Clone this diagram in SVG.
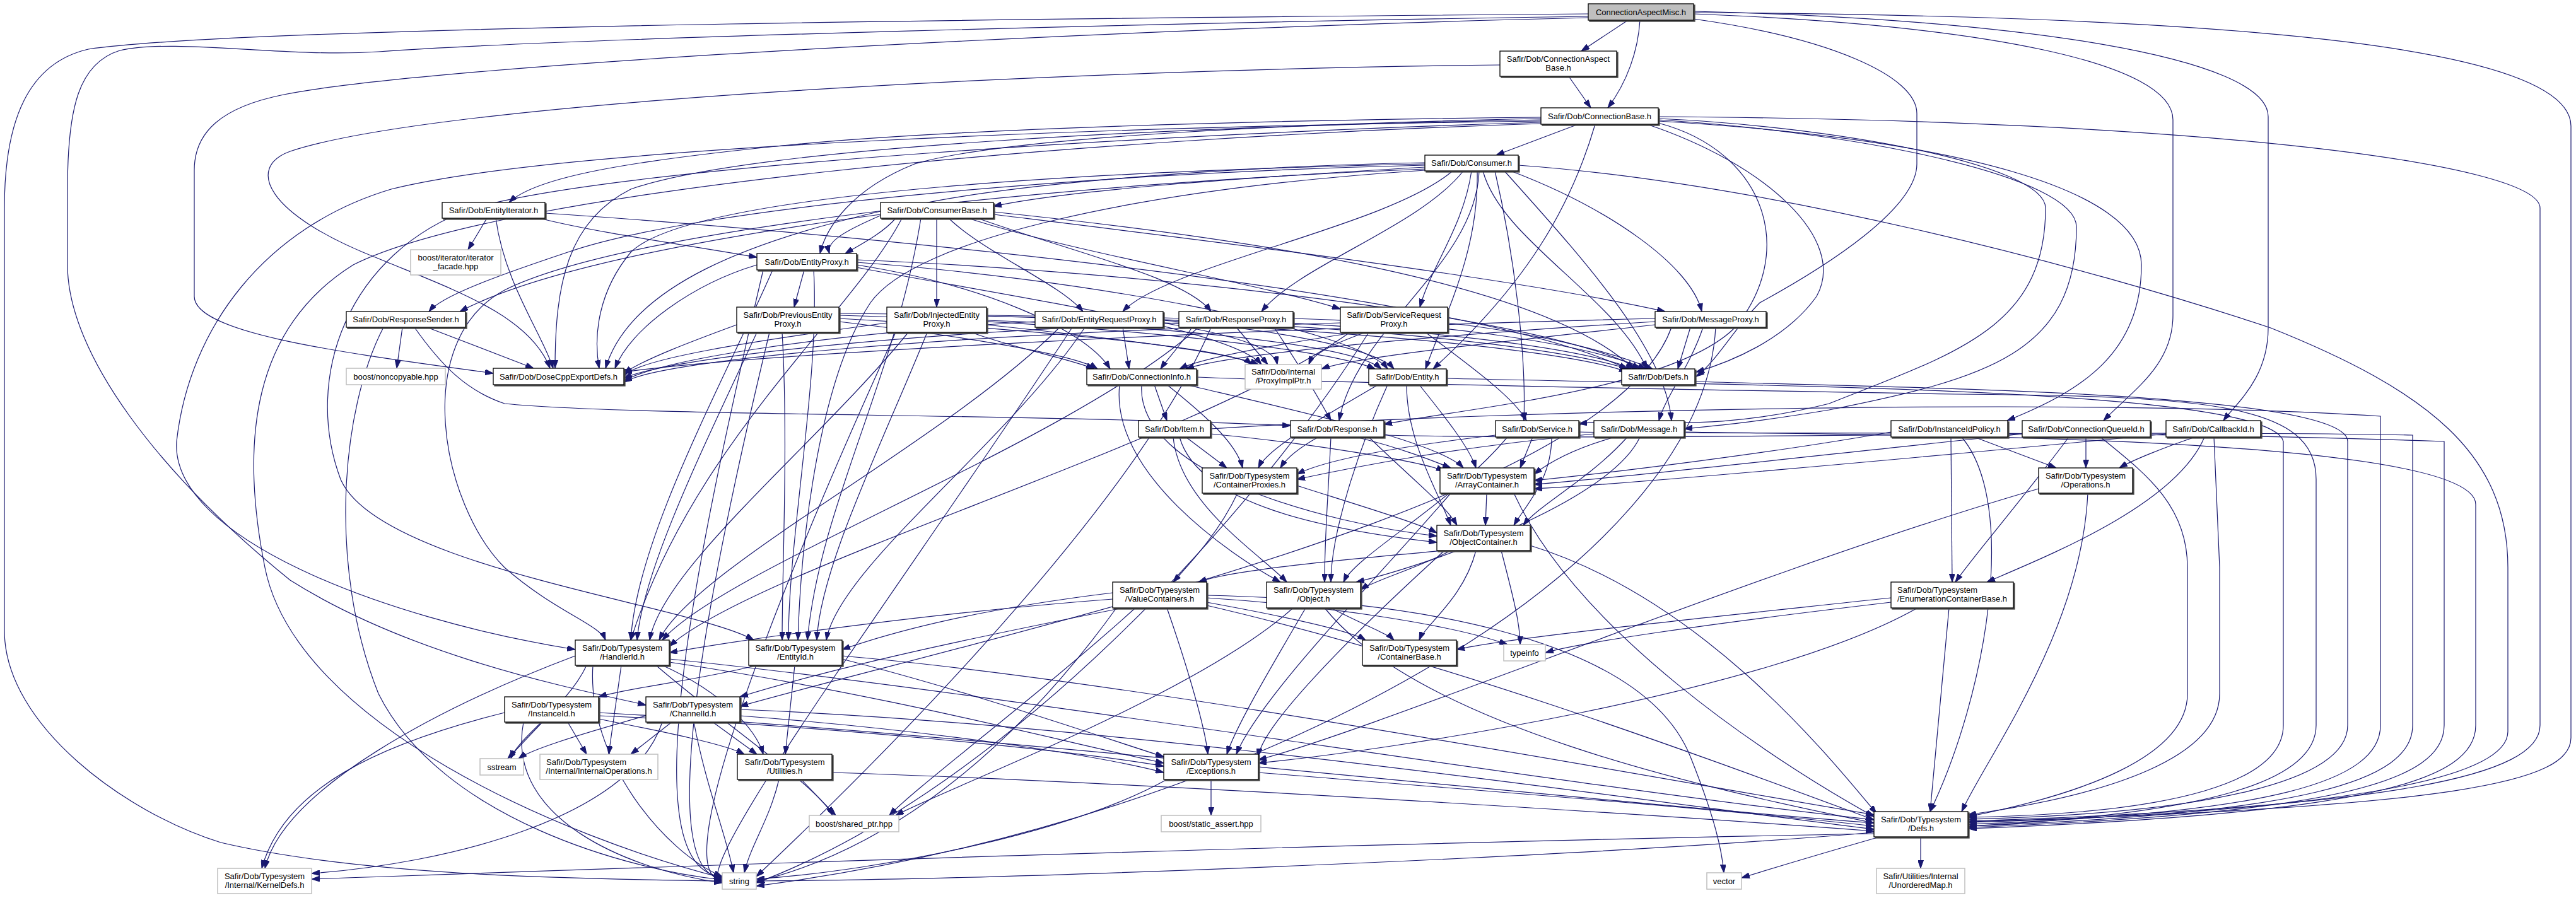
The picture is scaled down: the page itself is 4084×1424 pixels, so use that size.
<svg xmlns="http://www.w3.org/2000/svg" width="4084" height="1424" viewBox="0 0 4084 1424">
<defs>
<marker id="a" markerWidth="13" markerHeight="9" refX="13" refY="4.5" orient="auto" markerUnits="userSpaceOnUse"><path d="M0,0 L13,4.5 L0,9 z" fill="#191970" stroke="#191970" stroke-width="1"/></marker>
<filter id="s" x="-5%" y="-20%" width="112%" height="150%"><feOffset in="SourceAlpha" dx="1.5" dy="1.5" result="o"/><feFlood flood-color="#444"/><feComposite in2="o" operator="in"/><feMerge><feMergeNode/><feMergeNode in="SourceGraphic"/></feMerge></filter>
<style>
#edges path{fill:none;stroke:#191970;stroke-width:1.2;marker-end:url(#a)}
.n rect{fill:#fff;stroke:#000;stroke-width:1.3;filter:url(#s)}
.x rect{fill:#fff;stroke:#bfbfbf;stroke-width:1.5}
.r rect{fill:#bfbfbf;stroke:#000;stroke-width:1.3;filter:url(#s)}
text{font-family:"Liberation Sans",Arial,Helvetica,sans-serif;font-size:13px;text-anchor:middle;fill:#000}
text.l{text-anchor:start}
</style>
</defs>
<rect width="4084" height="1424" fill="#fff"/>
<g id="edges">
<path d="M2581,32 L2507,81"/>
<path d="M2600,32 C2597,80 2580,130 2549,171"/>
<path d="M2518,28 C1800,45 700,100 450,150 C350,170 308,210 308,270 L308,470 C308,530 550,560 782,592"/>
<path d="M2518,22 C1800,28 400,40 140,78 C45,100 7,190 7,330 L7,1000 C7,1150 200,1290 350,1336 C600,1395 1000,1394 1145,1397"/>
<path d="M2518,26 C1900,35 900,60 600,82 C450,92 280,60 190,80 C125,100 107,170 107,300 L107,420 C107,560 250,750 460,920 C650,1040 900,1090 1024,1118"/>
<path d="M2685,30 C2900,60 3039,120 3039,180 L3039,260 C3039,330 2900,420 2790,480 C2750,520 2720,575 2689,597"/>
<path d="M2685,22 C3150,40 3445,100 3445,190 L3445,500 C3445,580 3380,620 3335,667"/>
<path d="M2685,18 C3200,30 3596,90 3596,185 L3596,520 C3596,600 3545,640 3525,667"/>
<path d="M2685,20 C3600,25 4076,80 4076,200 L4076,1170 C4076,1240 3900,1280 3121,1303"/>
<path d="M2487,121 L2522,171"/>
<path d="M2378,103 C1700,110 700,160 460,240 C390,265 420,340 600,410 C720,460 840,500 872,584"/>
<path d="M2502,197 L2372,246"/>
<path d="M2443,186 C2000,190 1500,205 1250,230 C1000,255 850,280 807,321"/>
<path d="M2443,188 C2100,195 1600,215 1450,260 C1350,300 1310,360 1300,402"/>
<path d="M2443,190 C1900,200 1200,230 1000,300 C900,350 880,450 880,584"/>
<path d="M2529,197 C2490,330 2420,450 2272,585"/>
<path d="M2611,197 C2800,260 2930,380 2880,470 C2830,540 2740,575 2689,590"/>
<path d="M2629,195 C2800,240 2850,400 2750,520 C2650,620 2300,650 2194,673"/>
<path d="M2629,188 C2900,200 3243,260 3243,330 C3243,520 3100,560 2900,640 C2700,690 2600,660 2503,672"/>
<path d="M2629,190 C2950,210 3292,280 3292,360 C3292,560 3150,600 2900,650 C2780,670 2720,675 2670,680"/>
<path d="M2629,192 C3100,220 3395,300 3395,420 C3395,560 3300,620 3182,667"/>
<path d="M2629,185 C3500,190 4027,260 4027,330 L4027,1150 C4027,1230 3800,1280 3121,1302"/>
<path d="M2443,192 C1800,200 900,230 620,300 C420,360 300,520 280,700 C270,850 600,980 912,1030"/>
<path d="M2443,194 C1900,210 1000,260 750,330 C550,400 480,600 540,760 C600,900 1100,960 1195,1015"/>
<path d="M2443,196 C1700,220 800,300 560,420 C400,520 380,700 420,900 C470,1150 900,1330 1145,1392"/>
<path d="M2259,265 C2000,280 1700,300 1575,327"/>
<path d="M2259,258 C1900,265 1500,300 1400,340 C1330,370 1310,385 1315,402"/>
<path d="M2259,262 C1700,275 1100,330 900,400 C780,440 700,470 680,494"/>
<path d="M2259,260 C1800,270 1100,300 1000,400 C950,460 940,530 950,584"/>
<path d="M2303,271 C2200,360 1850,420 1780,494"/>
<path d="M2320,271 C2250,360 2060,420 2000,494"/>
<path d="M2333,271 C2320,360 2270,420 2251,487"/>
<path d="M2342,271 C2345,400 2290,500 2260,585"/>
<path d="M2351,271 C2380,380 2560,470 2611,585"/>
<path d="M2345,271 C2340,420 2150,520 2123,667"/>
<path d="M2370,271 C2400,400 2420,560 2416,667"/>
<path d="M2385,271 C2500,400 2640,550 2650,667"/>
<path d="M2395,271 C2550,330 2680,420 2698,494"/>
<path d="M2407,262 C2800,290 3300,420 3600,520 C3850,620 3976,720 3976,900 L3976,1160 C3976,1250 3600,1290 3121,1304"/>
<path d="M2259,268 C1700,290 1000,360 800,460 C650,540 700,800 800,900 C880,970 950,990 960,1015"/>
<path d="M2259,270 C1800,300 1450,380 1380,480 C1300,600 1270,850 1265,1015"/>
<path d="M1485,346 L1485,487"/>
<path d="M1504,346 C1560,400 1680,450 1717,494"/>
<path d="M1535,346 C1700,400 2000,450 2125,490"/>
<path d="M1550,346 C1700,400 1880,440 1920,494"/>
<path d="M1575,340 C1900,380 2400,440 2640,494"/>
<path d="M1396,340 C1100,380 850,430 729,494"/>
<path d="M1420,346 C1400,370 1360,390 1340,402"/>
<path d="M1396,335 C1200,380 1000,450 960,584"/>
<path d="M1575,336 C2000,380 2450,450 2590,585"/>
<path d="M1430,346 C1350,500 1100,700 1000,1015"/>
<path d="M1460,346 C1420,600 1300,800 1280,1015"/>
<path d="M772,346 L742,396"/>
<path d="M855,346 C950,370 1100,390 1200,408"/>
<path d="M786,346 C800,450 860,530 877,584"/>
<path d="M864,338 C1200,360 2300,450 2580,585"/>
<path d="M1275,428 L1259,487"/>
<path d="M1200,420 C1100,450 1000,520 975,584"/>
<path d="M1358,420 C1550,450 1720,520 1760,585"/>
<path d="M1358,424 C1600,470 1950,520 2000,578"/>
<path d="M1358,416 C1700,440 2150,520 2200,585"/>
<path d="M1358,412 C1800,430 2450,500 2600,585"/>
<path d="M1225,428 C1150,600 1010,850 1000,1015"/>
<path d="M1290,428 C1300,600 1250,850 1250,1015"/>
<path d="M1210,428 C1100,900 1000,1380 1145,1390"/>
<path d="M638,519 L629,584"/>
<path d="M677,519 L846,584"/>
<path d="M657,519 C700,580 740,620 800,640 C1000,660 1600,655 2046,675"/>
<path d="M608,519 C540,650 520,900 600,1100 C700,1300 1000,1380 1145,1395"/>
<path d="M1168,515 C1100,540 1020,570 989,592"/>
<path d="M1330,510 C1500,530 1700,560 1740,585"/>
<path d="M1330,505 C1600,520 1950,550 1985,578"/>
<path d="M1330,500 C1700,510 2100,550 2180,585"/>
<path d="M1330,497 C1800,500 2450,540 2580,590"/>
<path d="M1200,527 C1120,700 1020,900 1010,1015"/>
<path d="M1240,527 C1250,700 1240,900 1240,1015"/>
<path d="M1220,527 C1130,900 1030,1385 1145,1393"/>
<path d="M1406,512 C1200,540 1000,570 989,598"/>
<path d="M1540,527 C1600,550 1700,570 1735,585"/>
<path d="M1564,515 C1800,540 1950,560 1995,578"/>
<path d="M1564,508 C1900,520 2150,550 2190,585"/>
<path d="M1564,500 C2000,505 2450,540 2590,588"/>
<path d="M1440,527 C1300,700 1050,900 1030,1015"/>
<path d="M1470,527 C1400,700 1300,900 1295,1015"/>
<path d="M1420,527 C1250,900 1050,1390 1145,1396"/>
<path d="M1641,510 C1300,530 1050,570 989,604"/>
<path d="M1780,519 L1790,585"/>
<path d="M1844,512 C1950,530 2020,550 2025,578"/>
<path d="M1844,508 C2000,520 2180,550 2210,585"/>
<path d="M1844,504 C2100,510 2500,540 2600,590"/>
<path d="M1680,519 C1500,700 1100,900 1045,1015"/>
<path d="M1720,519 C1600,700 1330,900 1310,1015"/>
<path d="M1700,519 C1450,900 1080,1395 1145,1399"/>
<path d="M1869,512 C1400,530 1050,570 989,600"/>
<path d="M1890,519 C1870,550 1850,570 1840,585"/>
<path d="M1960,519 L2010,578"/>
<path d="M2020,519 C2060,580 2090,630 2110,667"/>
<path d="M2050,505 C2250,510 2500,540 2610,585"/>
<path d="M1900,519 C1700,700 1150,900 1050,1015"/>
<path d="M1920,519 C1800,800 1400,1200 1199,1390"/>
<path d="M2125,512 C1500,530 1050,570 989,606"/>
<path d="M2150,527 C2000,550 1900,570 1870,585"/>
<path d="M2165,527 C2100,550 2080,565 2075,578"/>
<path d="M2260,527 C2330,580 2400,630 2420,667"/>
<path d="M2295,512 C2450,530 2560,560 2620,585"/>
<path d="M2140,527 C1900,700 1200,900 1061,1025"/>
<path d="M2170,527 C2000,800 1600,1250 1199,1400"/>
<path d="M2624,505 C2000,520 1200,560 989,590"/>
<path d="M2624,510 C2300,530 1950,560 1880,585"/>
<path d="M2624,515 C2400,540 2150,565 2095,585"/>
<path d="M2700,519 C2680,580 2640,630 2630,667"/>
<path d="M2680,519 L2660,585"/>
<path d="M2650,519 C2550,800 1600,1000 1173,1120"/>
<path d="M2720,519 C2700,900 2000,1300 1199,1405"/>
<path d="M1830,610 L1850,667"/>
<path d="M1850,610 C1900,650 1960,700 1970,742"/>
<path d="M1880,610 C2050,650 2280,700 2320,742"/>
<path d="M1810,610 C1800,750 2100,830 2278,850"/>
<path d="M1775,610 C1760,750 1950,880 2030,923"/>
<path d="M1897,598 C2200,610 2800,620 3100,625 C3500,628 3672,640 3672,760 L3672,1150 C3672,1240 3500,1290 3121,1310"/>
<path d="M2185,610 C2100,660 2010,710 1995,742"/>
<path d="M2250,610 C2290,660 2330,710 2340,742"/>
<path d="M2230,610 C2230,700 2280,780 2300,833"/>
<path d="M2200,610 C2150,720 2110,850 2110,923"/>
<path d="M2293,600 C2800,612 3600,615 3620,700 L3620,1150 C3620,1240 3450,1290 3121,1296"/>
<path d="M2687,605 C3000,615 3722,620 3722,700 L3722,1150 C3722,1240 3500,1290 3121,1299"/>
<path d="M1880,693 L1945,742"/>
<path d="M1919,688 C2050,700 2250,730 2290,747"/>
<path d="M1870,693 C1900,800 2100,840 2278,860"/>
<path d="M1860,693 C1870,800 2000,880 2040,923"/>
<path d="M1919,680 C2400,650 3300,630 3774,660 L3774,1150 C3774,1240 3600,1290 3121,1307"/>
<path d="M2090,693 C2060,710 2040,725 2030,742"/>
<path d="M2150,693 C2220,710 2270,730 2300,742"/>
<path d="M2170,693 C2250,770 2290,800 2310,833"/>
<path d="M2110,693 C2105,800 2100,850 2100,923"/>
<path d="M2194,690 C2600,700 3300,680 3825,690 L3825,1150 C3825,1240 3650,1290 3121,1310"/>
<path d="M2371,690 C2200,710 2100,730 2056,752"/>
<path d="M2430,693 L2410,742"/>
<path d="M2460,693 C2460,760 2420,800 2400,833"/>
<path d="M2390,693 C2300,800 2150,880 2130,923"/>
<path d="M2503,685 C2800,690 3300,680 3875,700 L3875,1150 C3875,1240 3700,1290 3121,1312"/>
<path d="M2527,688 C2300,710 2150,740 2056,760"/>
<path d="M2560,693 C2500,710 2460,730 2432,752"/>
<path d="M2580,693 C2520,760 2440,800 2415,833"/>
<path d="M2600,693 C2550,800 2250,900 2150,923"/>
<path d="M2670,685 C3000,690 3925,690 3925,800 L3925,1150 C3925,1240 3750,1290 3121,1314"/>
<path d="M2998,685 C2800,720 2550,750 2432,762"/>
<path d="M3130,693 L3260,742"/>
<path d="M3093,693 L3095,923"/>
<path d="M3110,693 C3200,800 3150,1100 3060,1287"/>
<path d="M3206,688 C2900,720 2550,760 2432,768"/>
<path d="M3307,693 L3307,742"/>
<path d="M3280,693 C3200,800 3130,880 3100,923"/>
<path d="M3330,693 C3400,750 3468,800 3468,900 L3468,1100 C3468,1200 3300,1260 3120,1295"/>
<path d="M3434,688 C3000,730 2550,770 2432,775"/>
<path d="M3480,693 C3430,710 3380,730 3360,742"/>
<path d="M3495,693 C3450,800 3250,880 3150,923"/>
<path d="M3510,693 L3519,900 L3519,1100 C3519,1200 3350,1260 3120,1292"/>
<path d="M2056,770 C2150,800 2250,830 2278,845"/>
<path d="M1962,782 C1930,850 1880,900 1860,923"/>
<path d="M2357,782 L2355,833"/>
<path d="M2300,782 C2200,900 2000,1100 1960,1196"/>
<path d="M2400,782 C2500,1000 2800,1200 2971,1295"/>
<path d="M3232,775 C2800,900 2200,1150 1995,1205"/>
<path d="M3310,782 C3300,1000 3150,1200 3110,1287"/>
<path d="M2290,873 C2100,890 1950,905 1900,923"/>
<path d="M2300,873 C2250,900 2180,920 2157,935"/>
<path d="M2340,873 C2320,950 2260,990 2250,1015"/>
<path d="M2380,873 C2400,950 2410,990 2410,1022"/>
<path d="M2290,873 C2150,1000 2000,1150 1995,1200"/>
<path d="M2426,865 C2700,950 2900,1200 2975,1290"/>
<path d="M1764,950 C1500,970 1200,1010 1061,1035"/>
<path d="M1764,940 C1600,960 1450,990 1335,1030"/>
<path d="M1780,964 C1600,1000 1350,1050 1173,1105"/>
<path d="M1913,955 C2050,980 2140,1000 2165,1015"/>
<path d="M1913,948 C2100,960 2300,990 2390,1022"/>
<path d="M1850,964 C1880,1050 1910,1150 1915,1196"/>
<path d="M1800,964 C1650,1100 1450,1250 1410,1293"/>
<path d="M1913,960 C2300,1050 2700,1200 2971,1300"/>
<path d="M1770,964 C1600,1200 1400,1350 1199,1398"/>
<path d="M1913,944 C2200,950 2600,1000 2680,1200 C2720,1300 2730,1350 2733,1384"/>
<path d="M2110,964 C2160,990 2200,1005 2210,1015"/>
<path d="M2070,964 C2020,1050 1960,1150 1945,1196"/>
<path d="M2050,964 C1900,1100 1500,1250 1420,1293"/>
<path d="M2100,964 C2250,1150 2700,1250 2971,1305"/>
<path d="M2998,948 C2700,980 2400,1010 2309,1030"/>
<path d="M2998,955 C2700,990 2500,1020 2450,1035"/>
<path d="M3040,964 C2800,1100 2200,1190 1995,1210"/>
<path d="M3090,964 L3060,1287"/>
<path d="M930,1055 C900,1120 820,1170 810,1203"/>
<path d="M985,1055 L965,1196"/>
<path d="M1050,1055 C1150,1100 1200,1160 1210,1196"/>
<path d="M1061,1050 C1400,1100 1700,1180 1845,1210"/>
<path d="M1061,1045 C1600,1100 2500,1250 2971,1300"/>
<path d="M912,1040 C700,1120 450,1250 420,1377"/>
<path d="M940,1055 C930,1200 1050,1350 1145,1390"/>
<path d="M1040,1055 C1150,1150 1300,1250 1320,1293"/>
<path d="M1200,1055 C1100,1080 1000,1090 949,1105"/>
<path d="M1335,1045 C1550,1100 1750,1170 1845,1200"/>
<path d="M1335,1040 C1800,1080 2600,1230 2971,1292"/>
<path d="M1260,1055 L1245,1196"/>
<path d="M860,1145 L805,1203"/>
<path d="M900,1145 L930,1196"/>
<path d="M949,1140 C1050,1160 1150,1180 1180,1196"/>
<path d="M949,1135 C1300,1150 1700,1190 1845,1215"/>
<path d="M949,1130 C1500,1160 2500,1270 2971,1305"/>
<path d="M800,1130 C600,1180 450,1250 415,1377"/>
<path d="M830,1145 C800,1300 1000,1380 1145,1400"/>
<path d="M1024,1135 C900,1170 840,1190 822,1203"/>
<path d="M1065,1145 L1000,1196"/>
<path d="M1130,1145 L1200,1196"/>
<path d="M1173,1135 C1500,1160 1750,1200 1845,1225"/>
<path d="M1173,1125 C1800,1150 2600,1270 2971,1315"/>
<path d="M1050,1145 C1000,1300 700,1370 494,1385"/>
<path d="M1100,1145 C1120,1250 1150,1320 1163,1384"/>
<path d="M1270,1236 L1325,1293"/>
<path d="M1319,1225 C1800,1240 2600,1290 2971,1318"/>
<path d="M1235,1236 C1220,1300 1190,1340 1180,1384"/>
<path d="M1920,1236 L1920,1293"/>
<path d="M1995,1225 C2300,1250 2700,1280 2971,1310"/>
<path d="M1850,1236 C1700,1320 1400,1380 1199,1394"/>
<path d="M2971,1322 C2000,1340 900,1380 494,1394"/>
<path d="M2971,1320 C2500,1360 1600,1395 1199,1397"/>
<path d="M2980,1327 C2900,1350 2800,1380 2761,1392"/>
<path d="M3045,1327 L3045,1377"/>
</g>
<g id="n1" class="r"><rect x="2518" y="6" width="167" height="26"/><text x="2601.5" y="23.5">ConnectionAspectMisc.h</text></g>
<g id="n2" class="n"><rect x="2378" y="81" width="185" height="40"/><text x="2470.5" y="97.5">Safir/Dob/ConnectionAspect</text><text x="2470.5" y="111.5">Base.h</text></g>
<g id="n3" class="n"><rect x="2443" y="171" width="186" height="26"/><text x="2536" y="188.5">Safir/Dob/ConnectionBase.h</text></g>
<g id="n4" class="n"><rect x="2259" y="246" width="148" height="25"/><text x="2333" y="263">Safir/Dob/Consumer.h</text></g>
<g id="n5" class="n"><rect x="1396" y="321" width="179" height="25"/><text x="1485.5" y="338">Safir/Dob/ConsumerBase.h</text></g>
<g id="n6" class="n"><rect x="701" y="321" width="163" height="25"/><text x="782.5" y="338">Safir/Dob/EntityIterator.h</text></g>
<g id="n7" class="x"><rect x="651" y="396" width="143" height="40"/><text x="722.5" y="412.5">boost/iterator/iterator</text><text x="722.5" y="426.5">_facade.hpp</text></g>
<g id="n8" class="n"><rect x="1200" y="402" width="158" height="26"/><text x="1279" y="419.5">Safir/Dob/EntityProxy.h</text></g>
<g id="n9" class="n"><rect x="549" y="494" width="189" height="25"/><text x="643.5" y="511">Safir/Dob/ResponseSender.h</text></g>
<g id="n10" class="x"><rect x="549" y="584" width="157" height="26"/><text x="627.5" y="601.5">boost/noncopyable.hpp</text></g>
<g id="n11" class="n"><rect x="782" y="584" width="207" height="26"/><text x="885.5" y="601.5">Safir/Dob/DoseCppExportDefs.h</text></g>
<g id="n12" class="n"><rect x="1168" y="487" width="162" height="40"/><text x="1249" y="503.5">Safir/Dob/PreviousEntity</text><text x="1249" y="517.5">Proxy.h</text></g>
<g id="n13" class="n"><rect x="1406" y="487" width="158" height="40"/><text x="1485" y="503.5">Safir/Dob/InjectedEntity</text><text x="1485" y="517.5">Proxy.h</text></g>
<g id="n14" class="n"><rect x="1641" y="494" width="203" height="25"/><text x="1742.5" y="511">Safir/Dob/EntityRequestProxy.h</text></g>
<g id="n15" class="n"><rect x="1869" y="494" width="181" height="25"/><text x="1959.5" y="511">Safir/Dob/ResponseProxy.h</text></g>
<g id="n16" class="n"><rect x="2125" y="487" width="170" height="40"/><text x="2210" y="503.5">Safir/Dob/ServiceRequest</text><text x="2210" y="517.5">Proxy.h</text></g>
<g id="n17" class="n"><rect x="2624" y="494" width="176" height="25"/><text x="2712" y="511">Safir/Dob/MessageProxy.h</text></g>
<g id="n18" class="n"><rect x="1723" y="585" width="174" height="25"/><text x="1810" y="602">Safir/Dob/ConnectionInfo.h</text></g>
<g id="n19" class="x"><rect x="1974" y="578" width="121" height="39"/><text x="2034.5" y="594">Safir/Dob/Internal</text><text x="2034.5" y="608">/ProxyImplPtr.h</text></g>
<g id="n20" class="n"><rect x="2170" y="585" width="123" height="25"/><text x="2231.5" y="602">Safir/Dob/Entity.h</text></g>
<g id="n21" class="n"><rect x="2571" y="585" width="116" height="25"/><text x="2629" y="602">Safir/Dob/Defs.h</text></g>
<g id="n22" class="n"><rect x="1805" y="667" width="114" height="26"/><text x="1862" y="684.5">Safir/Dob/Item.h</text></g>
<g id="n23" class="n"><rect x="2046" y="667" width="148" height="26"/><text x="2120" y="684.5">Safir/Dob/Response.h</text></g>
<g id="n24" class="n"><rect x="2371" y="667" width="132" height="26"/><text x="2437" y="684.5">Safir/Dob/Service.h</text></g>
<g id="n25" class="n"><rect x="2527" y="667" width="143" height="26"/><text x="2598.5" y="684.5">Safir/Dob/Message.h</text></g>
<g id="n26" class="n"><rect x="2998" y="667" width="185" height="26"/><text x="3090.5" y="684.5">Safir/Dob/InstanceIdPolicy.h</text></g>
<g id="n27" class="n"><rect x="3206" y="667" width="203" height="26"/><text x="3307.5" y="684.5">Safir/Dob/ConnectionQueueId.h</text></g>
<g id="n28" class="n"><rect x="3434" y="667" width="150" height="26"/><text x="3509" y="684.5">Safir/Dob/CallbackId.h</text></g>
<g id="n29" class="n"><rect x="1906" y="742" width="150" height="40"/><text x="1981" y="758.5">Safir/Dob/Typesystem</text><text x="1981" y="772.5">/ContainerProxies.h</text></g>
<g id="n30" class="n"><rect x="2283" y="742" width="149" height="40"/><text x="2357.5" y="758.5">Safir/Dob/Typesystem</text><text x="2357.5" y="772.5">/ArrayContainer.h</text></g>
<g id="n31" class="n"><rect x="3232" y="742" width="149" height="40"/><text x="3306.5" y="758.5">Safir/Dob/Typesystem</text><text x="3306.5" y="772.5">/Operations.h</text></g>
<g id="n32" class="n"><rect x="2278" y="833" width="148" height="40"/><text x="2352" y="849.5">Safir/Dob/Typesystem</text><text x="2352" y="863.5">/ObjectContainer.h</text></g>
<g id="n33" class="n"><rect x="1764" y="923" width="149" height="41"/><text x="1838.5" y="940">Safir/Dob/Typesystem</text><text x="1838.5" y="954">/ValueContainers.h</text></g>
<g id="n34" class="n"><rect x="2008" y="923" width="149" height="41"/><text x="2082.5" y="940">Safir/Dob/Typesystem</text><text x="2082.5" y="954">/Object.h</text></g>
<g id="n35" class="n"><rect x="2998" y="923" width="194" height="41"/><text class="l" x="3008" y="940">Safir/Dob/Typesystem</text><text x="3095" y="954">/EnumerationContainerBase.h</text></g>
<g id="n36" class="n"><rect x="912" y="1015" width="149" height="40"/><text x="986.5" y="1031.5">Safir/Dob/Typesystem</text><text x="986.5" y="1045.5">/HandlerId.h</text></g>
<g id="n37" class="n"><rect x="1187" y="1015" width="148" height="40"/><text x="1261" y="1031.5">Safir/Dob/Typesystem</text><text x="1261" y="1045.5">/EntityId.h</text></g>
<g id="n38" class="n"><rect x="2160" y="1015" width="149" height="40"/><text x="2234.5" y="1031.5">Safir/Dob/Typesystem</text><text x="2234.5" y="1045.5">/ContainerBase.h</text></g>
<g id="n39" class="x"><rect x="2384" y="1022" width="66" height="26"/><text x="2417" y="1039.5">typeinfo</text></g>
<g id="n40" class="n"><rect x="800" y="1105" width="149" height="40"/><text x="874.5" y="1121.5">Safir/Dob/Typesystem</text><text x="874.5" y="1135.5">/InstanceId.h</text></g>
<g id="n41" class="n"><rect x="1024" y="1105" width="149" height="40"/><text x="1098.5" y="1121.5">Safir/Dob/Typesystem</text><text x="1098.5" y="1135.5">/ChannelId.h</text></g>
<g id="n42" class="x"><rect x="761" y="1203" width="69" height="26"/><text x="795.5" y="1220.5">sstream</text></g>
<g id="n43" class="x"><rect x="856" y="1196" width="187" height="40"/><text class="l" x="866" y="1212.5">Safir/Dob/Typesystem</text><text x="949.5" y="1226.5">/Internal/InternalOperations.h</text></g>
<g id="n44" class="n"><rect x="1169" y="1196" width="150" height="40"/><text x="1244" y="1212.5">Safir/Dob/Typesystem</text><text x="1244" y="1226.5">/Utilities.h</text></g>
<g id="n45" class="n"><rect x="1845" y="1196" width="150" height="40"/><text x="1920" y="1212.5">Safir/Dob/Typesystem</text><text x="1920" y="1226.5">/Exceptions.h</text></g>
<g id="n46" class="x"><rect x="1283" y="1293" width="142" height="26"/><text x="1354" y="1310.5">boost/shared_ptr.hpp</text></g>
<g id="n47" class="x"><rect x="1841" y="1293" width="158" height="26"/><text x="1920" y="1310.5">boost/static_assert.hpp</text></g>
<g id="n48" class="n"><rect x="2971" y="1287" width="149" height="40"/><text x="3045.5" y="1303.5">Safir/Dob/Typesystem</text><text x="3045.5" y="1317.5">/Defs.h</text></g>
<g id="n49" class="x"><rect x="345" y="1377" width="149" height="40"/><text x="419.5" y="1393.5">Safir/Dob/Typesystem</text><text x="419.5" y="1407.5">/Internal/KernelDefs.h</text></g>
<g id="n50" class="x"><rect x="1145" y="1384" width="54" height="26"/><text x="1172" y="1401.5">string</text></g>
<g id="n51" class="x"><rect x="2706" y="1384" width="55" height="26"/><text x="2733.5" y="1401.5">vector</text></g>
<g id="n52" class="x"><rect x="2975" y="1377" width="140" height="40"/><text x="3045" y="1393.5">Safir/Utilities/Internal</text><text x="3045" y="1407.5">/UnorderedMap.h</text></g>
</svg>
